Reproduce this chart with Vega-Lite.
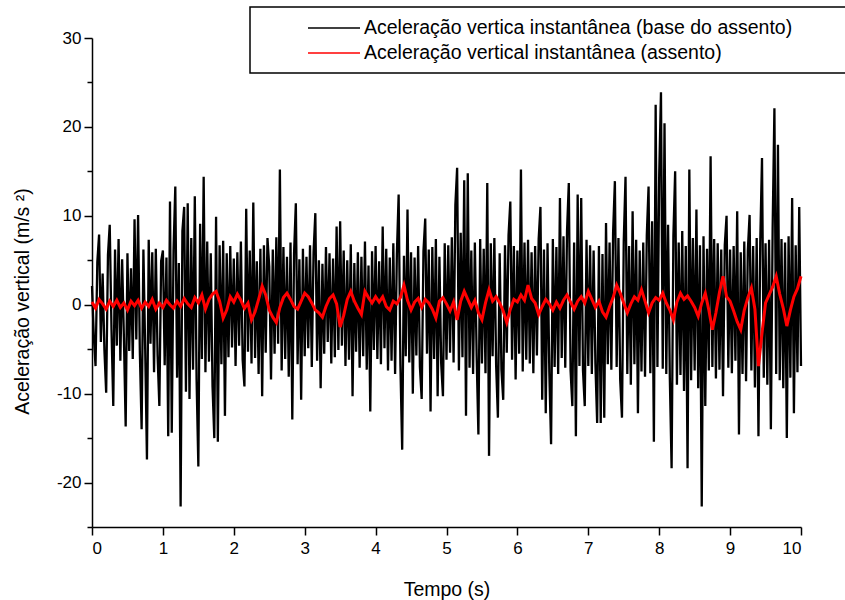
{
  "$schema": "https://vega.github.io/schema/vega-lite/v6.json",
  "width": 709,
  "height": 489,
  "autosize": {"type": "none"},
  "padding": {"left": 92, "top": 38, "right": 44, "bottom": 73},
  "background": "white",
  "config": {
    "view": {"stroke": null},
    "font": "Liberation Sans",
    "axis": {
      "grid": false,
      "domainColor": "black",
      "domainWidth": 1.5,
      "tickColor": "black",
      "tickWidth": 1.5,
      "labelColor": "black",
      "labelFont": "Liberation Sans",
      "labelFontSize": 17,
      "titleFont": "Liberation Sans",
      "titleFontSize": 19.5,
      "titleFontWeight": "normal",
      "titleColor": "black"
    },
    "legend": {
      "orient": "none",
      "legendX": 158,
      "legendY": -31,
      "strokeColor": "black",
      "strokeWidth": 1.5,
      "fillColor": "white",
      "padding": 10,
      "symbolType": "M-2.6,0H2.6",
      "symbolSize": 400,
      "symbolOffset": 63,
      "symbolStrokeWidth": 1.5,
      "labelOffset": 19,
      "labelFont": "Liberation Sans",
      "labelFontSize": 19.5,
      "labelColor": "black",
      "labelLimit": 0,
      "rowPadding": 4
    }
  },
  "datasets": {
    "base": [
      {"t":0,"a":2.1},{"t":0.025,"a":-3.5},{"t":0.05,"a":-6.9},{"t":0.075,"a":4.8},{"t":0.1,"a":7.9},{"t":0.125,"a":-4.2},{"t":0.15,"a":3.5},{"t":0.175,"a":-5.1},{"t":0.2,"a":-9.9},{"t":0.225,"a":5.6},
      {"t":0.25,"a":9.0},{"t":0.275,"a":-2.8},{"t":0.3,"a":-11.4},{"t":0.325,"a":6.2},{"t":0.35,"a":-4.6},{"t":0.375,"a":7.4},{"t":0.4,"a":-6.3},{"t":0.425,"a":5.1},{"t":0.45,"a":-3.7},{"t":0.475,"a":-13.7},
      {"t":0.5,"a":5.8},{"t":0.525,"a":-5.2},{"t":0.55,"a":4.1},{"t":0.575,"a":-6.1},{"t":0.6,"a":9.6},{"t":0.625,"a":-3.9},{"t":0.65,"a":10.1},{"t":0.675,"a":-5.4},{"t":0.7,"a":-14.0},{"t":0.725,"a":6.2},
      {"t":0.75,"a":-4.9},{"t":0.775,"a":-17.4},{"t":0.8,"a":7.3},{"t":0.825,"a":-4.4},{"t":0.85,"a":5.9},{"t":0.875,"a":-7.6},{"t":0.9,"a":6.3},{"t":0.925,"a":-5.7},{"t":0.95,"a":-11.4},{"t":0.975,"a":4.9},
      {"t":1.0,"a":6.1},{"t":1.025,"a":-6.8},{"t":1.05,"a":5.3},{"t":1.075,"a":-14.8},{"t":1.1,"a":11.6},{"t":1.125,"a":-14.4},{"t":1.15,"a":6.1},{"t":1.175,"a":13.3},{"t":1.2,"a":-8.2},{"t":1.225,"a":4.7},
      {"t":1.25,"a":-22.7},{"t":1.275,"a":8.3},{"t":1.3,"a":11.0},{"t":1.325,"a":-9.8},{"t":1.35,"a":11.4},{"t":1.375,"a":-10.6},{"t":1.4,"a":7.5},{"t":1.425,"a":-7.3},{"t":1.45,"a":12.2},{"t":1.475,"a":-8.4},
      {"t":1.5,"a":-18.2},{"t":1.525,"a":9.1},{"t":1.55,"a":-6.1},{"t":1.575,"a":14.4},{"t":1.6,"a":-7.6},{"t":1.625,"a":7.1},{"t":1.65,"a":-6.4},{"t":1.675,"a":5.8},{"t":1.7,"a":-9.2},{"t":1.725,"a":-15.0},
      {"t":1.75,"a":9.9},{"t":1.775,"a":-15.4},{"t":1.8,"a":6.7},{"t":1.825,"a":-6.7},{"t":1.85,"a":7.2},{"t":1.875,"a":-12.5},{"t":1.9,"a":5.8},{"t":1.925,"a":-5.9},{"t":1.95,"a":6.6},{"t":1.975,"a":-4.8},
      {"t":2.0,"a":5.2},{"t":2.025,"a":-6.9},{"t":2.05,"a":5.9},{"t":2.075,"a":-4.6},{"t":2.1,"a":7.1},{"t":2.125,"a":-6.2},{"t":2.15,"a":-9.2},{"t":2.175,"a":10.8},{"t":2.2,"a":-5.3},{"t":2.225,"a":6.1},
      {"t":2.25,"a":-6.6},{"t":2.275,"a":11.5},{"t":2.3,"a":-6.0},{"t":2.325,"a":4.9},{"t":2.35,"a":-7.8},{"t":2.375,"a":6.3},{"t":2.4,"a":-10.3},{"t":2.425,"a":6.7},{"t":2.45,"a":-5.4},{"t":2.475,"a":7.5},
      {"t":2.5,"a":4.3},{"t":2.525,"a":-8.4},{"t":2.55,"a":6.2},{"t":2.575,"a":-5.5},{"t":2.6,"a":7.6},{"t":2.625,"a":-4.4},{"t":2.65,"a":15.2},{"t":2.675,"a":-7.4},{"t":2.7,"a":6.5},{"t":2.725,"a":-6.1},
      {"t":2.75,"a":5.4},{"t":2.775,"a":-8.1},{"t":2.8,"a":7.0},{"t":2.825,"a":-12.9},{"t":2.85,"a":5.8},{"t":2.875,"a":11.4},{"t":2.9,"a":-6.7},{"t":2.925,"a":5.1},{"t":2.95,"a":-10.7},{"t":2.975,"a":6.3},
      {"t":3.0,"a":-5.8},{"t":3.025,"a":5.4},{"t":3.05,"a":-4.9},{"t":3.075,"a":6.7},{"t":3.1,"a":-7.0},{"t":3.125,"a":5.9},{"t":3.15,"a":10.3},{"t":3.175,"a":-6.3},{"t":3.2,"a":5.0},{"t":3.225,"a":-9.4},
      {"t":3.25,"a":4.6},{"t":3.275,"a":-5.5},{"t":3.3,"a":6.5},{"t":3.325,"a":-4.2},{"t":3.35,"a":5.8},{"t":3.375,"a":-6.6},{"t":3.4,"a":5.2},{"t":3.425,"a":-5.9},{"t":3.45,"a":8.8},{"t":3.475,"a":-5.1},
      {"t":3.5,"a":9.4},{"t":3.525,"a":-4.6},{"t":3.55,"a":6.1},{"t":3.575,"a":-6.9},{"t":3.6,"a":5.0},{"t":3.625,"a":-6.2},{"t":3.65,"a":6.8},{"t":3.675,"a":-10.3},{"t":3.7,"a":4.7},{"t":3.725,"a":-5.3},
      {"t":3.75,"a":5.9},{"t":3.775,"a":-7.1},{"t":3.8,"a":5.4},{"t":3.825,"a":-5.8},{"t":3.85,"a":7.1},{"t":3.875,"a":-7.3},{"t":3.9,"a":4.4},{"t":3.925,"a":-12.0},{"t":3.95,"a":6.0},{"t":3.975,"a":-5.1},
      {"t":4.0,"a":6.6},{"t":4.025,"a":-6.1},{"t":4.05,"a":4.9},{"t":4.075,"a":-6.7},{"t":4.1,"a":8.8},{"t":4.125,"a":-4.9},{"t":4.15,"a":6.3},{"t":4.175,"a":-7.4},{"t":4.2,"a":5.3},{"t":4.225,"a":-6.3},
      {"t":4.25,"a":6.9},{"t":4.275,"a":-7.8},{"t":4.3,"a":5.7},{"t":4.325,"a":12.4},{"t":4.35,"a":-6.8},{"t":4.375,"a":-16.3},{"t":4.4,"a":5.5},{"t":4.425,"a":-5.8},{"t":4.45,"a":10.7},{"t":4.475,"a":-6.5},
      {"t":4.5,"a":5.9},{"t":4.525,"a":-10.0},{"t":4.55,"a":5.3},{"t":4.575,"a":-5.7},{"t":4.6,"a":6.6},{"t":4.625,"a":-7.0},{"t":4.65,"a":-10.6},{"t":4.675,"a":6.0},{"t":4.7,"a":9.7},{"t":4.725,"a":-5.5},
      {"t":4.75,"a":6.2},{"t":4.775,"a":-12.0},{"t":4.8,"a":6.5},{"t":4.825,"a":-6.1},{"t":4.85,"a":7.4},{"t":4.875,"a":-10.3},{"t":4.9,"a":5.4},{"t":4.925,"a":-6.6},{"t":4.95,"a":-10.3},{"t":4.975,"a":6.9},
      {"t":5.0,"a":-6.2},{"t":5.025,"a":6.7},{"t":5.05,"a":-5.4},{"t":5.075,"a":7.6},{"t":5.1,"a":-6.5},{"t":5.125,"a":11.2},{"t":5.15,"a":15.4},{"t":5.175,"a":-7.4},{"t":5.2,"a":8.1},{"t":5.225,"a":-5.9},
      {"t":5.25,"a":14.0},{"t":5.275,"a":-12.5},{"t":5.3,"a":14.8},{"t":5.325,"a":-7.1},{"t":5.35,"a":6.1},{"t":5.375,"a":-7.8},{"t":5.4,"a":7.0},{"t":5.425,"a":-5.7},{"t":5.45,"a":-14.6},{"t":5.475,"a":7.4},
      {"t":5.5,"a":-6.6},{"t":5.525,"a":6.3},{"t":5.55,"a":-7.7},{"t":5.575,"a":13.7},{"t":5.6,"a":-17.0},{"t":5.625,"a":6.9},{"t":5.65,"a":-5.8},{"t":5.675,"a":7.5},{"t":5.7,"a":-6.8},{"t":5.725,"a":-12.7},
      {"t":5.75,"a":5.8},{"t":5.775,"a":-7.3},{"t":5.8,"a":-10.7},{"t":5.825,"a":6.7},{"t":5.85,"a":-5.4},{"t":5.875,"a":7.8},{"t":5.9,"a":11.6},{"t":5.925,"a":-6.2},{"t":5.95,"a":6.6},{"t":5.975,"a":-8.4},
      {"t":6.0,"a":6.1},{"t":6.025,"a":-5.5},{"t":6.05,"a":15.2},{"t":6.075,"a":-7.5},{"t":6.1,"a":7.0},{"t":6.125,"a":-6.2},{"t":6.15,"a":7.3},{"t":6.175,"a":-6.6},{"t":6.2,"a":5.9},{"t":6.225,"a":-7.7},
      {"t":6.25,"a":6.6},{"t":6.275,"a":-5.7},{"t":6.3,"a":7.4},{"t":6.325,"a":11.0},{"t":6.35,"a":-10.7},{"t":6.375,"a":6.2},{"t":6.4,"a":-12.2},{"t":6.425,"a":6.9},{"t":6.45,"a":-7.5},{"t":6.475,"a":-15.7},
      {"t":6.5,"a":7.4},{"t":6.525,"a":-7.0},{"t":6.55,"a":6.5},{"t":6.575,"a":-7.8},{"t":6.6,"a":12.0},{"t":6.625,"a":-6.0},{"t":6.65,"a":7.7},{"t":6.675,"a":-7.1},{"t":6.7,"a":8.3},{"t":6.725,"a":13.7},
      {"t":6.75,"a":-7.4},{"t":6.775,"a":-11.4},{"t":6.8,"a":7.0},{"t":6.825,"a":-14.8},{"t":6.85,"a":12.4},{"t":6.875,"a":-6.9},{"t":6.9,"a":12.0},{"t":6.925,"a":-7.4},{"t":6.95,"a":-11.4},{"t":6.975,"a":7.3},
      {"t":7.0,"a":-6.9},{"t":7.025,"a":6.7},{"t":7.05,"a":-7.8},{"t":7.075,"a":6.1},{"t":7.1,"a":-6.6},{"t":7.125,"a":-13.3},{"t":7.15,"a":6.6},{"t":7.175,"a":-13.3},{"t":7.2,"a":5.7},{"t":7.225,"a":-12.7},
      {"t":7.25,"a":9.2},{"t":7.275,"a":-6.7},{"t":7.3,"a":7.0},{"t":7.325,"a":-7.3},{"t":7.35,"a":8.2},{"t":7.375,"a":13.9},{"t":7.4,"a":-7.0},{"t":7.425,"a":7.5},{"t":7.45,"a":-8.5},{"t":7.475,"a":-12.7},
      {"t":7.5,"a":7.1},{"t":7.525,"a":14.4},{"t":7.55,"a":-7.8},{"t":7.575,"a":6.6},{"t":7.6,"a":-9.0},{"t":7.625,"a":10.5},{"t":7.65,"a":-6.7},{"t":7.675,"a":7.3},{"t":7.7,"a":-12.2},{"t":7.725,"a":6.1},
      {"t":7.75,"a":-7.5},{"t":7.775,"a":7.0},{"t":7.8,"a":-8.1},{"t":7.825,"a":7.8},{"t":7.85,"a":13.3},{"t":7.875,"a":-7.7},{"t":7.9,"a":9.4},{"t":7.925,"a":-15.4},{"t":7.95,"a":22.5},{"t":7.975,"a":-7.0},
      {"t":8.0,"a":14.6},{"t":8.025,"a":23.9},{"t":8.05,"a":-7.2},{"t":8.075,"a":20.4},{"t":8.1,"a":-7.8},{"t":8.125,"a":9.0},{"t":8.15,"a":-8.3},{"t":8.175,"a":-18.4},{"t":8.2,"a":7.7},{"t":8.225,"a":15.0},
      {"t":8.25,"a":-9.0},{"t":8.275,"a":7.0},{"t":8.3,"a":-7.9},{"t":8.325,"a":8.3},{"t":8.35,"a":-9.7},{"t":8.375,"a":6.6},{"t":8.4,"a":-18.4},{"t":8.425,"a":15.2},{"t":8.45,"a":-8.5},{"t":8.475,"a":7.5},
      {"t":8.5,"a":-7.4},{"t":8.525,"a":10.7},{"t":8.55,"a":-9.4},{"t":8.575,"a":6.7},{"t":8.6,"a":-22.7},{"t":8.625,"a":7.7},{"t":8.65,"a":-11.4},{"t":8.675,"a":6.3},{"t":8.7,"a":-7.4},{"t":8.725,"a":16.7},
      {"t":8.75,"a":-7.0},{"t":8.775,"a":7.4},{"t":8.8,"a":-8.3},{"t":8.825,"a":6.9},{"t":8.85,"a":-7.3},{"t":8.875,"a":6.2},{"t":8.9,"a":-10.3},{"t":8.925,"a":6.7},{"t":8.95,"a":10.0},{"t":8.975,"a":-7.1},
      {"t":9.0,"a":6.2},{"t":9.025,"a":-7.7},{"t":9.05,"a":6.6},{"t":9.075,"a":-6.3},{"t":9.1,"a":10.5},{"t":9.125,"a":-14.6},{"t":9.15,"a":5.9},{"t":9.175,"a":-7.8},{"t":9.2,"a":7.1},{"t":9.225,"a":-8.6},
      {"t":9.25,"a":6.1},{"t":9.275,"a":10.1},{"t":9.3,"a":-7.4},{"t":9.325,"a":6.6},{"t":9.35,"a":-9.3},{"t":9.375,"a":7.5},{"t":9.4,"a":-14.8},{"t":9.425,"a":7.0},{"t":9.45,"a":16.5},{"t":9.475,"a":-8.2},
      {"t":9.5,"a":6.9},{"t":9.525,"a":-9.0},{"t":9.55,"a":7.3},{"t":9.575,"a":-14.0},{"t":9.6,"a":8.6},{"t":9.625,"a":22.1},{"t":9.65,"a":-7.8},{"t":9.675,"a":18.0},{"t":9.7,"a":-8.5},{"t":9.725,"a":7.4},
      {"t":9.75,"a":-9.4},{"t":9.775,"a":7.0},{"t":9.8,"a":-15.0},{"t":9.825,"a":7.7},{"t":9.85,"a":-8.2},{"t":9.875,"a":12.0},{"t":9.9,"a":-12.2},{"t":9.925,"a":6.7},{"t":9.95,"a":-7.6},{"t":9.975,"a":11.0},
      {"t":10.0,"a":-6.9}
    ],
    "assento": [
      {"t":0,"a":0.3},{"t":0.05,"a":-0.4},{"t":0.1,"a":0.6},{"t":0.15,"a":0.1},{"t":0.2,"a":-0.5},{"t":0.25,"a":0.4},{"t":0.3,"a":-0.2},{"t":0.35,"a":0.5},{"t":0.4,"a":-0.3},{"t":0.45,"a":0.2},
      {"t":0.5,"a":-0.6},{"t":0.55,"a":0.4},{"t":0.6,"a":-0.1},{"t":0.65,"a":0.5},{"t":0.7,"a":-0.4},{"t":0.75,"a":0.3},{"t":0.8,"a":-0.2},{"t":0.85,"a":0.6},{"t":0.9,"a":-0.5},{"t":0.95,"a":0.2},
      {"t":1.0,"a":-0.3},{"t":1.05,"a":0.5},{"t":1.1,"a":0.0},{"t":1.15,"a":-0.4},{"t":1.2,"a":0.4},{"t":1.25,"a":-0.2},{"t":1.3,"a":0.7},{"t":1.35,"a":0.1},{"t":1.4,"a":-0.3},{"t":1.45,"a":0.8},
      {"t":1.5,"a":0.2},{"t":1.55,"a":1.1},{"t":1.6,"a":-0.5},{"t":1.65,"a":0.6},{"t":1.7,"a":1.2},{"t":1.75,"a":1.5},{"t":1.8,"a":0.4},{"t":1.85,"a":-1.5},{"t":1.9,"a":-0.6},{"t":1.95,"a":0.9},
      {"t":2.0,"a":0.3},{"t":2.05,"a":1.2},{"t":2.1,"a":0.5},{"t":2.15,"a":-0.4},{"t":2.2,"a":0.2},{"t":2.25,"a":-1.7},{"t":2.3,"a":-0.8},{"t":2.35,"a":0.6},{"t":2.4,"a":2.1},{"t":2.45,"a":1.1},
      {"t":2.5,"a":-0.6},{"t":2.55,"a":-1.4},{"t":2.6,"a":-2.0},{"t":2.65,"a":-0.3},{"t":2.7,"a":0.8},{"t":2.75,"a":1.3},{"t":2.8,"a":0.6},{"t":2.85,"a":-0.2},{"t":2.9,"a":-0.5},{"t":2.95,"a":0.4},
      {"t":3.0,"a":1.3},{"t":3.05,"a":0.9},{"t":3.1,"a":0.2},{"t":3.15,"a":-0.6},{"t":3.2,"a":-0.9},{"t":3.25,"a":-1.4},{"t":3.3,"a":-0.2},{"t":3.35,"a":0.7},{"t":3.4,"a":1.1},{"t":3.45,"a":0.1},
      {"t":3.5,"a":-2.5},{"t":3.55,"a":-1.2},{"t":3.6,"a":0.6},{"t":3.65,"a":1.5},{"t":3.7,"a":0.4},{"t":3.75,"a":-0.4},{"t":3.8,"a":-1.1},{"t":3.85,"a":1.5},{"t":3.9,"a":0.8},{"t":3.95,"a":0.2},
      {"t":4.0,"a":0.9},{"t":4.05,"a":0.3},{"t":4.1,"a":0.9},{"t":4.15,"a":-0.2},{"t":4.2,"a":-0.6},{"t":4.25,"a":0.4},{"t":4.3,"a":0.1},{"t":4.35,"a":0.8},{"t":4.4,"a":2.2},{"t":4.45,"a":0.5},
      {"t":4.5,"a":-0.6},{"t":4.55,"a":0.3},{"t":4.6,"a":0.7},{"t":4.65,"a":-0.3},{"t":4.7,"a":0.6},{"t":4.75,"a":0.2},{"t":4.8,"a":-0.5},{"t":4.85,"a":-1.5},{"t":4.9,"a":0.4},{"t":4.95,"a":0.8},
      {"t":5.0,"a":0.1},{"t":5.05,"a":-0.7},{"t":5.1,"a":0.3},{"t":5.15,"a":-1.7},{"t":5.2,"a":0.4},{"t":5.25,"a":1.5},{"t":5.3,"a":0.6},{"t":5.35,"a":-0.3},{"t":5.4,"a":0.5},{"t":5.45,"a":-0.9},
      {"t":5.5,"a":-1.7},{"t":5.55,"a":0.2},{"t":5.6,"a":1.7},{"t":5.65,"a":0.4},{"t":5.7,"a":0.9},{"t":5.75,"a":0.2},{"t":5.8,"a":-0.7},{"t":5.85,"a":-2.0},{"t":5.9,"a":-0.5},{"t":5.95,"a":0.6},
      {"t":6.0,"a":0.3},{"t":6.05,"a":1.1},{"t":6.1,"a":0.5},{"t":6.15,"a":2.2},{"t":6.2,"a":0.7},{"t":6.25,"a":0.2},{"t":6.3,"a":-1.1},{"t":6.35,"a":-0.2},{"t":6.4,"a":0.6},{"t":6.45,"a":0.1},
      {"t":6.5,"a":-0.6},{"t":6.55,"a":0.3},{"t":6.6,"a":-0.4},{"t":6.65,"a":0.5},{"t":6.7,"a":1.1},{"t":6.75,"a":0.3},{"t":6.8,"a":-0.5},{"t":6.85,"a":0.4},{"t":6.9,"a":0.9},{"t":6.95,"a":0.2},
      {"t":7.0,"a":1.5},{"t":7.05,"a":0.6},{"t":7.1,"a":-0.3},{"t":7.15,"a":0.4},{"t":7.2,"a":-0.8},{"t":7.25,"a":-1.4},{"t":7.3,"a":-0.2},{"t":7.35,"a":0.8},{"t":7.4,"a":2.2},{"t":7.45,"a":1.3},
      {"t":7.5,"a":0.2},{"t":7.55,"a":-0.9},{"t":7.6,"a":0.1},{"t":7.65,"a":0.9},{"t":7.7,"a":0.5},{"t":7.75,"a":1.7},{"t":7.8,"a":0.4},{"t":7.85,"a":-0.9},{"t":7.9,"a":0.2},{"t":7.95,"a":0.8},
      {"t":8.0,"a":0.5},{"t":8.05,"a":1.3},{"t":8.1,"a":0.2},{"t":8.15,"a":-0.6},{"t":8.2,"a":-1.7},{"t":8.25,"a":0.3},{"t":8.3,"a":1.3},{"t":8.35,"a":0.6},{"t":8.4,"a":1.0},{"t":8.45,"a":0.4},
      {"t":8.5,"a":-0.3},{"t":8.55,"a":-1.3},{"t":8.6,"a":0.2},{"t":8.65,"a":1.3},{"t":8.7,"a":-0.6},{"t":8.75,"a":-2.8},{"t":8.8,"a":-0.9},{"t":8.85,"a":1.4},{"t":8.9,"a":3.2},{"t":8.95,"a":0.9},
      {"t":9.0,"a":0.4},{"t":9.05,"a":-0.7},{"t":9.1,"a":-1.9},{"t":9.15,"a":-2.8},{"t":9.2,"a":-0.6},{"t":9.25,"a":0.8},{"t":9.3,"a":1.9},{"t":9.35,"a":-0.5},{"t":9.4,"a":-6.9},{"t":9.45,"a":-3.2},
      {"t":9.5,"a":0.2},{"t":9.55,"a":1.1},{"t":9.6,"a":2.0},{"t":9.65,"a":3.2},{"t":9.7,"a":1.2},{"t":9.75,"a":-0.4},{"t":9.8,"a":-2.4},{"t":9.85,"a":-0.6},{"t":9.9,"a":0.9},{"t":9.95,"a":1.8},
      {"t":10.0,"a":3.2}
    ]
  },
  "layer": [
    {
      "data": {"name": "base"},
      "mark": {"type": "line", "strokeWidth": 2.3},
      "encoding": {
        "x": {
          "field": "t",
          "type": "quantitative",
          "scale": {"domain": [0, 10], "nice": false, "zero": false},
          "axis": {
            "title": "Tempo (s)",
            "values": [0,0.5,1,1.5,2,2.5,3,3.5,4,4.5,5,5.5,6,6.5,7,7.5,8,8.5,9,9.5,10],
            "labelExpr": "datum.value % 1 === 0 ? format(datum.value, 'd') : ''",
            "tickSize": {"condition": {"test": "datum.value % 1 !== 0", "value": 5}, "value": 8},
            "labelPadding": 5,
            "titlePadding": 24
          }
        },
        "y": {
          "field": "a",
          "type": "quantitative",
          "scale": {"domain": [-25, 30], "nice": false, "zero": false},
          "axis": {
            "title": "Aceleração vertical (m/s ²)",
            "values": [-25,-20,-15,-10,-5,0,5,10,15,20,25,30],
            "labelExpr": "datum.value % 10 === 0 ? replace(datum.label, '−', '-') : ''",
            "tickSize": {"condition": {"test": "datum.value % 10 !== 0", "value": 5}, "value": 8},
            "labelPadding": 3,
            "titlePadding": 24,
            "titleY": 263
          }
        },
        "color": {
          "datum": "Aceleração vertica instantânea (base do assento)",
          "type": "nominal",
          "scale": {
            "domain": ["Aceleração vertica instantânea (base do assento)", "Aceleração vertical instantânea (assento)"],
            "range": ["#000000", "#ff0000"]
          },
          "legend": {"title": null, "labelExpr": "datum.label + '\u2800\u2800\u2800'"}
        }
      }
    },
    {
      "data": {"name": "assento"},
      "mark": {"type": "line", "strokeWidth": 3},
      "encoding": {
        "x": {"field": "t", "type": "quantitative"},
        "y": {"field": "a", "type": "quantitative"},
        "color": {"datum": "Aceleração vertical instantânea (assento)", "type": "nominal"}
      }
    }
  ]
}
